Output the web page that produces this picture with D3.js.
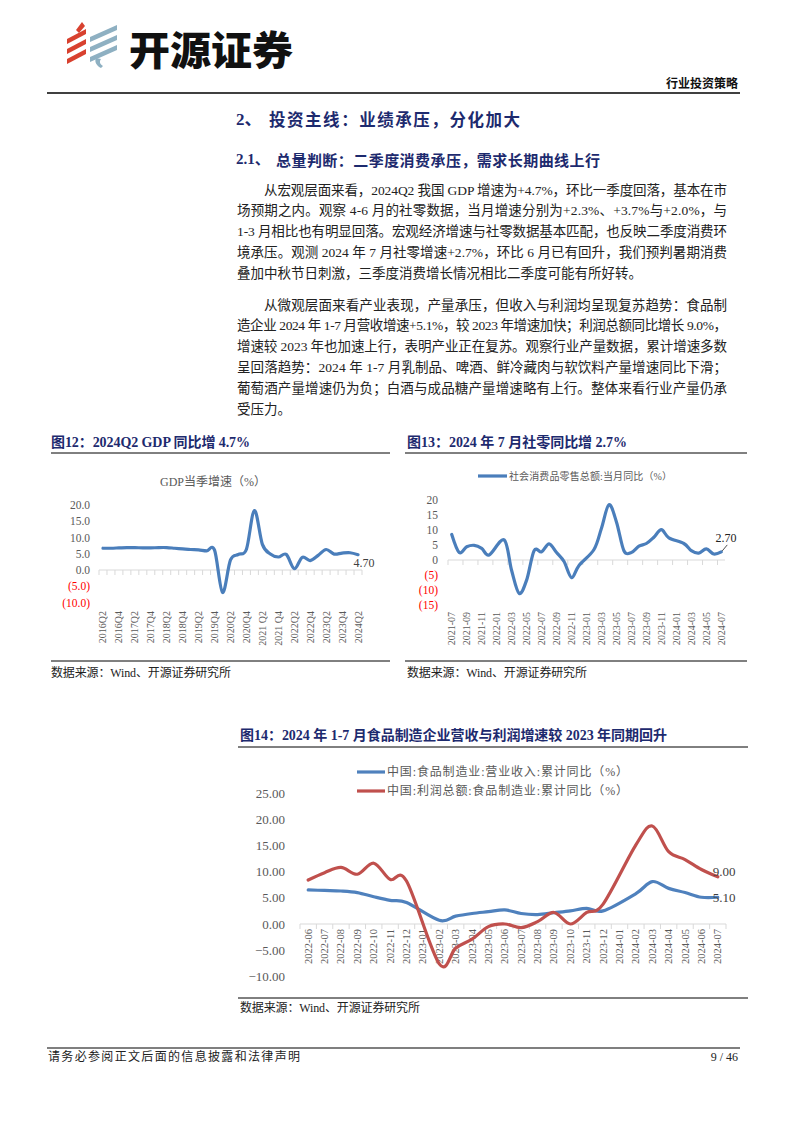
<!DOCTYPE html>
<html><head><meta charset="utf-8">
<script src="https://cdn.jsdelivr.net/npm/d3@7/dist/d3.min.js"></script>
<style>
html,body{margin:0;padding:0;background:#fff;}
svg{display:block;}
</style>
</head><body>
<svg id="page" width="794" height="1123"></svg>
<script>
// ---------------- DATA ----------------
const gdpQuarters = ["2016Q2","2016Q3","2016Q4","2017Q1","2017Q2","2017Q3","2017Q4","2018Q1","2018Q2","2018Q3","2018Q4",
  "2019Q1","2019Q2","2019Q3","2019Q4","2020Q1","2020Q2","2020Q3","2020Q4","2021Q1","2021 Q2","2021Q3","2021 Q4",
  "2022Q1","2022Q2","2022Q3","2022Q4","2023Q1","2023Q2","2023Q3","2023Q4","2024Q1","2024Q2"];
const gdpValues = [6.7,6.7,6.8,6.9,6.9,6.8,6.8,6.9,6.9,6.7,6.5,6.3,6.2,5.9,6.1,-6.9,3.1,4.8,6.4,18.3,7.9,4.9,4.0,4.8,0.4,3.9,2.9,4.5,6.3,4.9,5.2,5.3,4.7];
const gdpTicks = [20,15,10,5,0,-5,-10];

const retailMonths = ["2021-07","2021-08","2021-09","2021-10","2021-11","2021-12",
  "2022-01","2022-02","2022-03","2022-04","2022-05","2022-06","2022-07","2022-08","2022-09","2022-10","2022-11","2022-12",
  "2023-01","2023-02","2023-03","2023-04","2023-05","2023-06","2023-07","2023-08","2023-09","2023-10","2023-11","2023-12",
  "2024-01","2024-02","2024-03","2024-04","2024-05","2024-06","2024-07"];
const retailValues = [8.5,2.5,4.4,4.9,3.9,1.7,
  null,6.7,-3.5,-11.1,-6.7,3.1,2.7,5.4,2.5,-0.5,-5.9,-1.8,
  null,3.5,10.6,18.4,12.7,3.1,2.5,4.6,5.5,7.6,10.1,7.4,
  null,5.5,3.1,2.3,3.7,2.0,2.7];
const retailTicks = [20,15,10,5,0,-5,-10,-15];

const foodMonths = ["2022-06","2022-07","2022-08","2022-09","2022-10","2022-11","2022-12",
  "2023-01","2023-02","2023-03","2023-04","2023-05","2023-06","2023-07","2023-08","2023-09","2023-10","2023-11","2023-12",
  "2024-01","2024-02","2024-03","2024-04","2024-05","2024-06","2024-07"];
const foodRevenue = [6.5,6.4,6.3,6.0,5.2,4.5,4.1, null,0.7,1.5,2.0,2.35,2.7,2.0,1.8,2.15,2.5,3.0,2.5, null,5.8,8.1,6.8,6.0,5.1,5.1];
const foodProfit  = [8.4,9.8,10.8,9.5,11.6,8.5,8.2, null,-7.6,-4.6,-2.9,-0.5,0.0,-0.7,0.45,2.2,0.0,2.2,3.8, null,15.1,18.7,13.8,12.3,10.4,9.0];
const foodTicks = [25,20,15,10,5,0,-5,-10];
const foodSeriesNames = ["中国:食品制造业:营业收入:累计同比（%）","中国:利润总额:食品制造业:累计同比（%）"];

// ---------------- HELPERS ----------------
const svg = d3.select("#page");
const SERIF = "'Liberation Serif','Times New Roman','Noto Sans CJK SC',serif";
const CJK = "'Noto Sans CJK SC','Liberation Serif',sans-serif";
const NAVY = "#1d2a6e";
const GRAY = "#595959";

function text(x, y, s, o) {
  o = o || {};
  const t = svg.append("text").attr("x", x).attr("y", y).text(s)
    .attr("font-family", o.family || SERIF)
    .attr("font-size", o.size || 13)
    .attr("fill", o.fill || "#222")
    .attr("dominant-baseline", "central")
    .attr("text-anchor", o.anchor || "start");
  if (o.weight) t.attr("font-weight", o.weight);
  if (o.len) t.attr("textLength", o.len).attr("lengthAdjust", "spacingAndGlyphs");
  if (o.spacing) t.attr("textLength", o.spacing).attr("lengthAdjust", "spacing");
  return t;
}
function hline(x1, x2, y, w, c) {
  svg.append("line").attr("x1", x1).attr("x2", x2).attr("y1", y).attr("y2", y)
    .attr("stroke", c || "#000").attr("stroke-width", w || 1);
}

// ---------------- HEADER ----------------
// logo stripes
const logo = svg.append("g");
[[0,0],[0,1],[0,2]].forEach((d, i) => {
  const y0 = 33 + i * 10;
  logo.append("path").attr("d", `M67,${y0+6} L86,${y0-4} L86,${y0+1} L67,${y0+11} Z`).attr("fill", "#d8412f");
});
logo.append("path").attr("d", "M76,30 L82,22 L85,26 L79,33 Z").attr("fill", "#d8412f");
[0,1,2].forEach(i => {
  const y0 = 31 + i * 10;
  logo.append("path").attr("d", `M90,${y0+6} L117,${y0-6} L117,${y0-1} L90,${y0+11} Z`).attr("fill", "#8eb0c2");
});
logo.append("path").attr("d", "M96,58 C94,62 97,66 101,68 L103,66 C100,64 99,62 101,59 Z").attr("fill", "#8eb0c2");
text(129, 48, "开源证券", {family: CJK, size: 40, weight: 900, fill: "#111", len: 164});
text(738, 82, "行业投资策略", {family: CJK, size: 12, weight: 700, fill: "#111", anchor: "end", len: 72});
hline(47, 740, 93, 1.5);

// ---------------- HEADINGS & BODY ----------------
text(236, 119, "2、", {size: 17, weight: 700, fill: NAVY, family: SERIF});
text(269, 119, "投资主线：业绩承压，分化加大", {family: CJK, size: 16.5, weight: 700, fill: NAVY, spacing: 251});
text(236, 159, "2.1、", {size: 15, weight: 700, fill: NAVY, family: SERIF});
text(276, 159, "总量判断：二季度消费承压，需求长期曲线上行", {family: CJK, size: 15, weight: 700, fill: NAVY, spacing: 324});

const para1 = [
  "从宏观层面来看，2024Q2 我国 GDP 增速为+4.7%，环比一季度回落，基本在市",
  "场预期之内。观察 4-6 月的社零数据，当月增速分别为+2.3%、+3.7%与+2.0%，与",
  "1-3 月相比也有明显回落。宏观经济增速与社零数据基本匹配，也反映二季度消费环",
  "境承压。观测 2024 年 7 月社零增速+2.7%，环比 6 月已有回升，我们预判暑期消费",
  "叠加中秋节日刺激，三季度消费增长情况相比二季度可能有所好转。"];
const para2 = [
  "从微观层面来看产业表现，产量承压，但收入与利润均呈现复苏趋势：食品制",
  "造企业 2024 年 1-7 月营收增速+5.1%，较 2023 年增速加快；利润总额同比增长 9.0%，",
  "增速较 2023 年也加速上行，表明产业正在复苏。观察行业产量数据，累计增速多数",
  "呈回落趋势：2024 年 1-7 月乳制品、啤酒、鲜冷藏肉与软饮料产量增速同比下滑；",
  "葡萄酒产量增速仍为负；白酒与成品糖产量增速略有上行。整体来看行业产量仍承",
  "受压力。"];
function para(lines, y0) {
  lines.forEach((l, i) => {
    const x = i === 0 ? 264 : 237;
    const last = i === lines.length - 1;
    const o = {size: 13.5, fill: "#222"};
    if (!last) o.spacing = 727 - x;
    text(x, y0 + i * 20.8, l, o);
  });
}
para(para1, 190);
para(para2, 305);

// ---------------- FIGURE FRAMES ----------------
text(51, 442, "图12：2024Q2 GDP 同比增 4.7%", {size: 14, weight: 700, fill: NAVY, spacing: 199});
hline(51, 390, 453, 1);
hline(51, 390, 661, 1);
text(51, 673, "数据来源：Wind、开源证券研究所", {size: 12, fill: "#222", spacing: 180});

text(407, 442, "图13：2024 年 7 月社零同比增 2.7%", {size: 14, weight: 700, fill: NAVY, spacing: 220});
hline(405, 747, 453, 1);
hline(405, 747, 661, 1);
text(407, 673, "数据来源：Wind、开源证券研究所", {size: 12, fill: "#222", spacing: 180});

text(240, 735, "图14：2024 年 1-7 月食品制造企业营收与利润增速较 2023 年同期回升", {size: 14, weight: 700, fill: NAVY, spacing: 427});
hline(238, 748, 747, 1);
hline(238, 748, 998, 1);
text(240, 1008, "数据来源：Wind、开源证券研究所", {size: 12, fill: "#222", spacing: 180});

// ---------------- FOOTER ----------------
hline(47, 740, 1048, 1.2);
text(48, 1057, "请务必参阅正文后面的信息披露和法律声明", {size: 12, fill: "#222", spacing: 252});
text(738, 1057, "9 / 46", {size: 12, fill: "#222", anchor: "end"});

// ---------------- CHART DRAW ----------------
function drawChart(cfg) {
  const g = svg.append("g");
  const x = d3.scaleBand().domain(cfg.cats).range([cfg.x0, cfg.x1]);
  const bw = x.bandwidth();
  const cx = c => x(c) + bw / 2;
  const y = d3.scaleLinear().domain(cfg.domain).range([cfg.yBottom, cfg.yTop]);
  // axis line at zero
  const y0 = y(0);
  g.append("line").attr("x1", cfg.x0).attr("x2", cfg.x1).attr("y1", y0).attr("y2", y0)
    .attr("stroke", "#d9d9d9").attr("stroke-width", 1);
  // tick marks
  const nT = cfg.cats.length;
  for (let i = 0; i <= nT; i += cfg.tickEvery) {
    const xx = cfg.x0 + i * bw;
    g.append("line").attr("x1", xx).attr("x2", xx).attr("y1", y0).attr("y2", y0 + 5)
      .attr("stroke", "#d9d9d9").attr("stroke-width", 1);
  }
  // y labels
  cfg.ticks.forEach(t => {
    g.append("text").attr("x", cfg.yLabelX).attr("y", y(t)).text(cfg.fmt(t))
      .attr("text-anchor", "end").attr("dominant-baseline", "central")
      .attr("font-family", SERIF).attr("font-size", cfg.yFont)
      .attr("fill", (t < 0 && cfg.redNeg) ? "#ff0000" : GRAY);
  });
  // x labels
  cfg.cats.forEach((c, i) => {
    if (i % cfg.labelEvery !== 0) return;
    const xx = cx(c), yy = cfg.xLabelY;
    g.append("text").attr("transform", `translate(${xx + 3.5},${yy}) rotate(-90)`)
      .text(c).attr("text-anchor", "end")
      .attr("font-family", SERIF).attr("font-size", cfg.xFont).attr("fill", GRAY);
  });
  // series
  cfg.series.forEach(s => {
    const pts = cfg.cats.map((c, i) => ({c, v: s.values[i]})).filter(d => d.v !== null);
    const line = d3.line().x(d => cx(d.c)).y(d => y(d.v)).curve(d3.curveCardinal.tension(0));
    g.append("path").attr("d", line(pts)).attr("fill", "none")
      .attr("stroke", s.color).attr("stroke-width", 3.2).attr("stroke-linejoin", "round").attr("stroke-linecap", "round");
  });
  return {x, y, cx, g};
}

// GDP chart
text(213, 482, "GDP当季增速（%）", {size: 12, fill: GRAY});
d3.select(svg.node().lastChild).attr("text-anchor", "middle");
const gdp = drawChart({
  cats: gdpQuarters, x0: 99, x1: 362, domain: [-10, 20], yBottom: 602.5, yTop: 505,
  ticks: gdpTicks, fmt: t => t < 0 ? "(" + d3.format(".1f")(-t) + ")" : d3.format(".1f")(t),
  yLabelX: 90, yFont: 11.5, redNeg: true, tickEvery: 1, labelEvery: 2, xLabelY: 611, xFont: 10,
  series: [{values: gdpValues, color: "#4a7ebb"}]
});
text(364, 563, d3.format(".2f")(gdpValues[gdpValues.length - 1]), {size: 12, fill: "#404040", anchor: "middle"});

// Retail chart
svg.append("line").attr("x1", 478).attr("x2", 507).attr("y1", 476).attr("y2", 476).attr("stroke", "#4a7ebb").attr("stroke-width", 3.2);
text(509, 476, "社会消费品零售总额:当月同比（%）", {size: 10, fill: GRAY, spacing: 163});
const ret = drawChart({
  cats: retailMonths, x0: 448, x1: 725, domain: [-15, 20], yBottom: 605, yTop: 500,
  ticks: retailTicks, fmt: t => t < 0 ? "(" + (-t) + ")" : String(t),
  yLabelX: 438, yFont: 11.5, redNeg: true, tickEvery: 2, labelEvery: 2, xLabelY: 612, xFont: 10,
  series: [{values: retailValues, color: "#4a7ebb"}]
});
{
  const lastC = retailMonths[retailMonths.length - 1], lastV = retailValues[retailValues.length - 1];
  const px = ret.cx(lastC), py = ret.y(lastV);
  svg.append("line").attr("x1", px + 1).attr("y1", py - 1).attr("x2", px + 6).attr("y2", py - 7)
    .attr("stroke", "#222").attr("stroke-width", 0.8);
  text(726, 538, d3.format(".2f")(lastV), {size: 12, fill: "#222", anchor: "middle"});
}

// Food chart
svg.append("line").attr("x1", 357).attr("x2", 385).attr("y1", 772).attr("y2", 772).attr("stroke", "#4f81bd").attr("stroke-width", 3.2);
text(387, 772, foodSeriesNames[0], {size: 12, fill: GRAY, spacing: 241});
svg.append("line").attr("x1", 357).attr("x2", 385).attr("y1", 791).attr("y2", 791).attr("stroke", "#c0504d").attr("stroke-width", 3.2);
text(387, 791, foodSeriesNames[1], {size: 12, fill: GRAY, spacing: 241});
const food = drawChart({
  cats: foodMonths, x0: 300, x1: 726, domain: [-10, 25], yBottom: 976.4, yTop: 793,
  ticks: foodTicks, fmt: d3.format(".2f"),
  yLabelX: 285, yFont: 13, redNeg: false, tickEvery: 1, labelEvery: 1, xLabelY: 929, xFont: 10.5,
  series: [{values: foodRevenue, color: "#4f81bd"}, {values: foodProfit, color: "#c0504d"}]
});
text(724, 871, d3.format(".2f")(foodProfit[foodProfit.length - 1]), {size: 13, fill: "#404040", anchor: "middle"});
text(724, 897, d3.format(".2f")(foodRevenue[foodRevenue.length - 1]), {size: 13, fill: "#404040", anchor: "middle"});
</script>
</body></html>
